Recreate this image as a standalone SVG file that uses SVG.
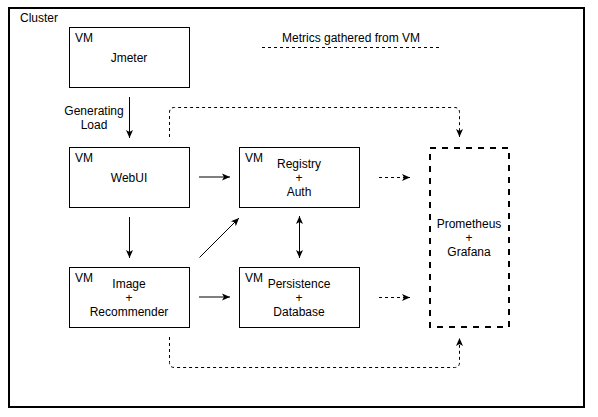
<svg xmlns="http://www.w3.org/2000/svg" width="598" height="417" viewBox="0 0 598 417">
<style>
text{font-family:"Liberation Sans",Arial,sans-serif;font-size:12px;fill:#000}
.c{text-anchor:middle}
.box{fill:#fff;stroke:#000;stroke-width:1}
.ln{fill:none;stroke:#000;stroke-width:1}
.dot{fill:none;stroke:#000;stroke-width:1;stroke-dasharray:3 3}
</style>
<defs>
<marker id="ah" markerUnits="userSpaceOnUse" markerWidth="10" markerHeight="10" viewBox="0 0 10 10" refX="9" refY="5" orient="auto-start-reverse">
<path d="M1,1.5 L9,5 L1,8.5 L3,5 z" fill="#000"/>
</marker>
</defs>
<rect x="0" y="0" width="598" height="417" fill="#fff"/>
<g id="cluster">
<rect x="9" y="8" width="575" height="399" fill="#fff" stroke="#000" stroke-width="2"/>
<text x="20" y="22">Cluster</text>
</g>
<g id="legend">
<line x1="262" y1="47.5" x2="439" y2="47.5" class="dot"/>
<text x="351" y="42" class="c">Metrics gathered from VM</text>
</g>
<g id="jmeter">
<rect x="69.5" y="27.5" width="120" height="60" class="box"/>
<text x="75" y="42">VM</text>
<text x="129" y="62" class="c">Jmeter</text>
</g>
<g id="webui">
<rect x="69.5" y="147.5" width="120" height="60" class="box"/>
<text x="75" y="162">VM</text>
<text x="129" y="182" class="c">WebUI</text>
</g>
<g id="image">
<rect x="69.5" y="267.5" width="120" height="60" class="box"/>
<text x="75" y="282">VM</text>
<text x="129" y="288" class="c">Image</text>
<text x="129" y="302" class="c">+</text>
<text x="129" y="316" class="c">Recommender</text>
</g>
<g id="registry">
<rect x="239.5" y="147.5" width="120" height="60" class="box"/>
<text x="245" y="162">VM</text>
<text x="299" y="168" class="c">Registry</text>
<text x="299" y="182" class="c">+</text>
<text x="299" y="196" class="c">Auth</text>
</g>
<g id="persistence">
<rect x="239.5" y="267.5" width="120" height="60" class="box"/>
<text x="245" y="282">VM</text>
<text x="299" y="288" class="c">Persistence</text>
<text x="299" y="302" class="c">+</text>
<text x="299" y="316" class="c">Database</text>
</g>
<g id="prometheus">
<rect x="430" y="148" width="79" height="179" fill="#fff" stroke="#000" stroke-width="2" stroke-dasharray="6 6"/>
<text x="469" y="228" class="c">Prometheus</text>
<text x="469" y="242" class="c">+</text>
<text x="469" y="256" class="c">Grafana</text>
</g>
<g id="connectors">
<line x1="129.5" y1="97" x2="129.5" y2="138" class="ln" marker-end="url(#ah)"/>
<text x="94" y="115" class="c">Generating</text>
<text x="94" y="129" class="c">Load</text>
<line x1="129.5" y1="217" x2="129.5" y2="258" class="ln" marker-end="url(#ah)"/>
<line x1="199" y1="177" x2="230" y2="177" class="ln" marker-end="url(#ah)"/>
<line x1="199" y1="297" x2="230" y2="297" class="ln" marker-end="url(#ah)"/>
<line x1="199.5" y1="257.5" x2="239" y2="218" class="ln" marker-end="url(#ah)"/>
<line x1="299.5" y1="216" x2="299.5" y2="258" class="ln" marker-start="url(#ah)" marker-end="url(#ah)"/>
<line x1="379" y1="177.5" x2="410" y2="177.5" class="dot" marker-end="url(#ah)"/>
<line x1="379" y1="297.5" x2="410" y2="297.5" class="dot" marker-end="url(#ah)"/>
<path d="M169.5,137 L169.5,112.5 Q169.5,107.5 174.5,107.5 L454.5,107.5 Q459.5,107.5 459.5,112.5 L459.5,137" class="dot" marker-end="url(#ah)"/>
<path d="M169.5,337 L169.5,362.5 Q169.5,367.5 174.5,367.5 L454.5,367.5 Q459.5,367.5 459.5,362.5 L459.5,338" class="dot" marker-end="url(#ah)"/>
</g>
</svg>
